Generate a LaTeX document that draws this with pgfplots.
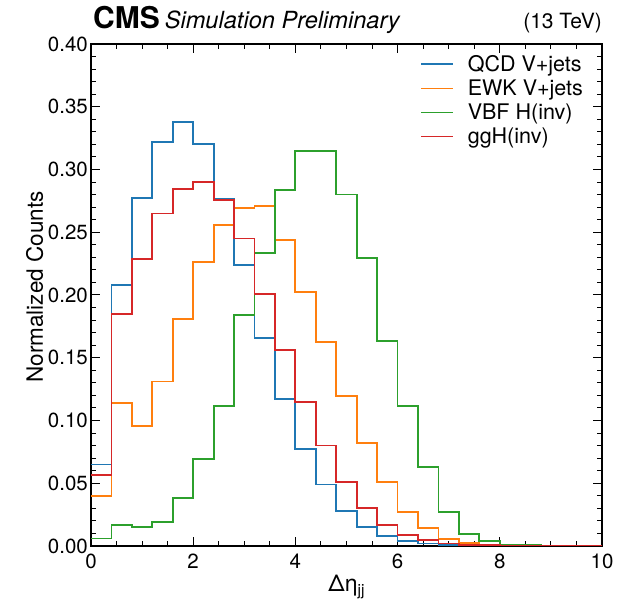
\documentclass[border=0pt]{standalone}
\usepackage{fontspec}
\setmainfont{TeX Gyre Heros}
\usepackage{pgfplots}
\pgfplotsset{compat=1.18}
\definecolor{cblue}{HTML}{1F77B4}
\definecolor{corange}{HTML}{FF7F0E}
\definecolor{cgreen}{HTML}{2CA02C}
\definecolor{cred}{HTML}{D62728}
\begin{document}
\begin{tikzpicture}
\begin{axis}[
  name=ax,
  scale only axis, width=511pt, height=502pt,
  xmin=0, xmax=10, ymin=0, ymax=0.40,
  xtick={0,2,4,6,8,10},
  ytick={0,0.05,0.10,0.15,0.20,0.25,0.30,0.35,0.40},
  minor x tick num=3, minor y tick num=4,
  tick align=inside, major tick length=9pt, minor tick length=5pt,
  axis line style={line width=1.3pt},
  every tick/.style={black, line width=1pt},
  /pgf/number format/assume math mode=true,
  tick label style={font=\fontsize{20.5}{23}\selectfont, inner sep=2pt},
  yticklabel style={xshift=-1pt},
  y tick label style={/pgf/number format/fixed, /pgf/number format/fixed zerofill, /pgf/number format/precision=2},
  xticklabel style={yshift=-6pt},
  ylabel={Normalized Counts},
  ylabel style={font=\fontsize{22.5}{24}\selectfont, yshift=-1pt, xshift=8pt},
  xlabel={Δη\raisebox{-0.35ex}{\fontsize{15.5}{15}\selectfont jj}},
  xlabel style={font=\fontsize{23}{24}\selectfont, yshift=0pt},
  legend cell align=left,
  legend style={at={(rel axis cs:0.963,0.978)}, anchor=north east, draw=none, fill=none,
    font=\fontsize{21.5}{24}\selectfont, row sep=7pt, column sep=14pt, inner sep=0pt,
    nodes={inner sep=0pt}},
  legend image code/.code={\draw[#1, line width=1.5pt] (0pt,0pt) -- (32pt,0pt);},
  every axis plot/.append style={const plot mark left, line width=1.8pt, mark=none},
]
\addplot[cblue] coordinates {
(0,0.065) (0.4,0.208) (0.8,0.2775) (1.2,0.322) (1.6,0.338) (2.0,0.320) (2.4,0.2765)
(2.8,0.224) (3.2,0.166) (3.6,0.117) (4.0,0.077) (4.4,0.049) (4.8,0.028) (5.2,0.015)
(5.6,0.008) (6.0,0.004) (6.4,0.002) (6.8,0.001) (7.2,0.0005) (7.6,0.0003) (8.0,0.0001)
(8.4,0.0001) (8.8,0) (9.2,0) (9.6,0) (10,0)};
\addlegendentry{QCD V+jets}
\addplot[corange] coordinates {
(0,0.040) (0.4,0.1137) (0.8,0.0956) (1.2,0.131) (1.6,0.181) (2.0,0.226) (2.4,0.256)
(2.8,0.2696) (3.2,0.2707) (3.6,0.2438) (4.0,0.2024) (4.4,0.1623) (4.8,0.1198) (5.2,0.082)
(5.6,0.0513) (6.0,0.027) (6.4,0.0146) (6.8,0.0056) (7.2,0.0027) (7.6,0.0012) (8.0,0.0005)
(8.4,0.0003) (8.8,0.0001) (9.2,0.0001) (9.6,0) (10,0)};
\addlegendentry{EWK V+jets}
\addplot[cgreen] coordinates {
(0,0.0059) (0.4,0.017) (0.8,0.0151) (1.2,0.0194) (1.6,0.0382) (2.0,0.0693) (2.4,0.1118)
(2.8,0.1843) (3.2,0.2332) (3.6,0.2834) (4.0,0.3147) (4.4,0.3145) (4.8,0.280) (5.2,0.2295)
(5.6,0.1636) (6.0,0.1116) (6.4,0.0632) (6.8,0.0268) (7.2,0.0098) (7.6,0.004) (8.0,0.0012)
(8.4,0.0005) (8.8,0.0002) (9.2,0.0001) (9.6,0) (10,0)};
\addlegendentry{VBF H(inv)}
\addplot[cred] coordinates {
(0,0.0566) (0.4,0.185) (0.8,0.229) (1.2,0.265) (1.6,0.2845) (2.0,0.290) (2.4,0.276)
(2.8,0.245) (3.2,0.2005) (3.6,0.156) (4.0,0.115) (4.4,0.080) (4.8,0.051) (5.2,0.030)
(5.6,0.017) (6.0,0.0085) (6.4,0.0045) (6.8,0.002) (7.2,0.001) (7.6,0.0005) (8.0,0.0002)
(8.4,0.0001) (8.8,0.0001) (9.2,0) (9.6,0) (10,0)};
\addlegendentry{ggH(inv)}
\end{axis}
\node[anchor=base west, inner sep=0pt] at ([xshift=2pt,yshift=15pt]ax.north west)
  {\fontsize{30}{30}\selectfont\bfseries CMS\hspace{5pt}\fontsize{23.6}{24}\selectfont\mdseries\itshape Simulation Preliminary};
\node[anchor=base east, inner sep=0pt] at ([yshift=15pt]ax.north east)
  {\fontsize{21}{22}\selectfont (13 TeV)};
\path ([xshift=-91pt,yshift=-53pt]ax.south west) rectangle ([xshift=23pt,yshift=44pt]ax.north east);
\end{tikzpicture}
\end{document}
